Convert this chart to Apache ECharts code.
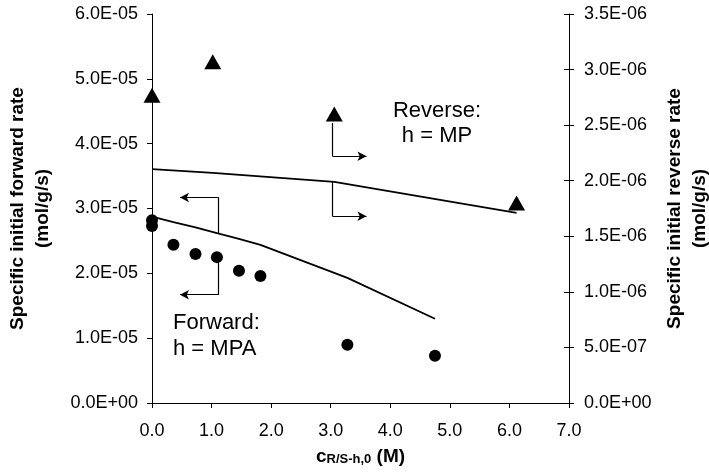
<!DOCTYPE html>
<html>
<head>
<meta charset="utf-8">
<script src="https://cdn.jsdelivr.net/npm/echarts@6/dist/echarts.min.js"></script>
<style>html,body{margin:0;padding:0;background:#fff;}#c{width:709px;height:472px;}</style>
</head>
<body>
<div id="c"></div>
<script>
// Forward (left axis) measured points
var fwdX = [0, 0, 0.36, 0.73, 1.09, 1.46, 1.82, 3.28, 4.75];
var fwdY = [2.82e-5, 2.73e-5, 2.44e-5, 2.30e-5, 2.25e-5, 2.04e-5, 1.96e-5, 0.90e-5, 0.73e-5];
// Forward model line
var fwdLineX = [0, 0.36, 0.73, 1.09, 1.46, 1.82, 3.28, 4.75];
var fwdLineY = [2.875e-5, 2.79e-5, 2.71e-5, 2.62e-5, 2.53e-5, 2.44e-5, 1.93e-5, 1.30e-5];
// Reverse (right axis) measured points
var revX = [0, 1.02, 3.06, 6.12];
var revY = [2.77e-6, 3.07e-6, 2.60e-6, 1.80e-6];
// Reverse model line
var revLineX = [0, 1.02, 3.06, 6.12];
var revLineY = [2.105e-6, 2.07e-6, 1.99e-6, 1.71e-6];
// Axis settings
var xMin = 0, xMax = 7, xStep = 1;
var leftMin = 0, leftMax = 6e-5, leftStep = 1e-5;
var rightMin = 0, rightMax = 3.5e-6, rightStep = 5e-7;
// Annotation arrows (data coordinates): [x0,y0,xCorner,yCorner,xEnd]
var fwdArrows = [[1.12, 2.62e-5, 1.12, 3.17e-5, 0.47], [1.12, 2.25e-5, 1.12, 1.67e-5, 0.47]];
var revArrows = [[3.03, 2.52e-6, 3.03, 2.22e-6, 3.60], [3.03, 1.99e-6, 3.03, 1.68e-6, 3.60]];

function expFmt(v) {
  var s = Number(v).toExponential(1);
  var p = s.split('e');
  var e = parseInt(p[1], 10);
  var sign = e < 0 ? '-' : '+';
  var a = Math.abs(e);
  return p[0].toUpperCase() + 'E' + sign + (a < 10 ? '0' + a : '' + a);
}
function zip(a, b) { return a.map(function (x, i) { return [x, b[i]]; }); }
function arrowLines(arr) {
  var out = [];
  arr.forEach(function (a) {
    out.push([{coord: [a[0], a[1]], symbol: 'none'}, {coord: [a[2], a[3]], symbol: 'none'}]);
    out.push([{coord: [a[2], a[3]], symbol: 'none'}, {coord: [a[4], a[3]], symbol: 'arrow'}]);
  });
  return out;
}
var FF = '"Liberation Sans", Arial, sans-serif';
var markLineBase = {
  silent: true, animation: false,
  symbolSize: [7, 9],
  label: {show: false},
  lineStyle: {color: '#000', width: 1.2, type: 'solid'},
  emphasis: {disabled: true}
};

var chart = echarts.init(document.getElementById('c'), null, {renderer: 'canvas'});
chart.setOption({
  animation: false,
  backgroundColor: '#fff',
  grid: {left: 152, right: 140, top: 14, bottom: 69, containLabel: false, outerBoundsMode: 'none'},
  xAxis: {
    type: 'value', min: xMin, max: xMax, interval: xStep,
    axisLine: {lineStyle: {color: '#000', width: 1}},
    axisTick: {inside: false, length: 5, lineStyle: {color: '#000'}},
    axisLabel: {color: '#000', fontSize: 18, fontFamily: FF, margin: 19, formatter: function (v) { return v.toFixed(1); }},
    splitLine: {show: false},
    name: '{c|c}{s|R/S-h,0}{m| (M)}',
    nameLocation: 'middle', nameGap: 37,
    nameTextStyle: {
      rich: {
        c: {fontSize: 19, fontWeight: 'bold', fontFamily: FF, color: '#000', lineHeight: 26, verticalAlign: 'bottom'},
        s: {fontSize: 13, fontWeight: 'bold', fontFamily: FF, color: '#000', lineHeight: 13, verticalAlign: 'bottom'},
        m: {fontSize: 19, fontWeight: 'bold', fontFamily: FF, color: '#000', lineHeight: 26, verticalAlign: 'bottom'}
      }
    }
  },
  yAxis: [
    {
      type: 'value', position: 'left', min: leftMin, max: leftMax, interval: leftStep,
      axisLine: {show: true, lineStyle: {color: '#000', width: 1}},
      axisTick: {show: true, inside: false, length: 5, lineStyle: {color: '#000'}},
      axisLabel: {color: '#000', fontSize: 18, fontFamily: FF, margin: 14, formatter: expFmt},
      splitLine: {show: false},
      name: 'Specific initial forward rate\n(mol/g/s)',
      nameLocation: 'middle', nameRotate: 90, nameGap: 97,
      nameTextStyle: {fontSize: 19, fontWeight: 'bold', fontFamily: FF, color: '#000', lineHeight: 25, align: 'center'}
    },
    {
      type: 'value', position: 'right', min: rightMin, max: rightMax, interval: rightStep,
      axisLine: {show: true, lineStyle: {color: '#000', width: 1}},
      axisTick: {show: true, inside: false, length: 5, lineStyle: {color: '#000'}},
      axisLabel: {color: '#000', fontSize: 18, fontFamily: FF, margin: 15, formatter: expFmt},
      splitLine: {show: false},
      name: 'Specific initial reverse rate\n(mol/g/s)',
      nameLocation: 'middle', nameRotate: 90, nameGap: 90,
      nameTextStyle: {fontSize: 19, fontWeight: 'bold', fontFamily: FF, color: '#000', lineHeight: 25, align: 'center'}
    },
    {
      type: 'value', position: 'right', min: rightMin, max: rightMax, interval: rightStep,
      axisLine: {show: false},
      axisTick: {show: true, inside: true, length: 5, lineStyle: {color: '#000'}},
      axisLabel: {show: false},
      splitLine: {show: false}
    }
  ],
  series: [
    {
      type: 'line', name: 'fwdModel', xAxisIndex: 0, yAxisIndex: 0,
      data: zip(fwdLineX, fwdLineY), symbol: 'none', showSymbol: false,
      lineStyle: {color: '#000', width: 1.8}, silent: true,
      markLine: Object.assign({}, markLineBase, {data: arrowLines(fwdArrows)})
    },
    {
      type: 'line', name: 'revModel', xAxisIndex: 0, yAxisIndex: 1,
      data: zip(revLineX, revLineY), symbol: 'none', showSymbol: false,
      lineStyle: {color: '#000', width: 1.8}, silent: true,
      markLine: Object.assign({}, markLineBase, {data: arrowLines(revArrows)})
    },
    {
      type: 'scatter', name: 'fwd', xAxisIndex: 0, yAxisIndex: 0,
      data: zip(fwdX, fwdY), symbol: 'circle', symbolSize: 12,
      itemStyle: {color: '#000', opacity: 1}, silent: true, z: 5
    },
    {
      type: 'scatter', name: 'rev', xAxisIndex: 0, yAxisIndex: 1,
      data: zip(revX, revY), symbol: 'triangle', symbolSize: [17, 15],
      itemStyle: {color: '#000', opacity: 1}, silent: true, z: 5
    }
  ],
  graphic: [
    {
      type: 'text', x: 173, y: 310, silent: true,
      style: {text: 'Forward:\nh = MPA', font: '22px ' + FF, fill: '#000', lineHeight: 26, align: 'left', verticalAlign: 'top'}
    },
    {
      type: 'text', x: 437, y: 98, silent: true,
      style: {text: 'Reverse:\nh = MP', font: '22px ' + FF, fill: '#000', lineHeight: 25, align: 'center', verticalAlign: 'top'}
    }
  ]
});
</script>
</body>
</html>
